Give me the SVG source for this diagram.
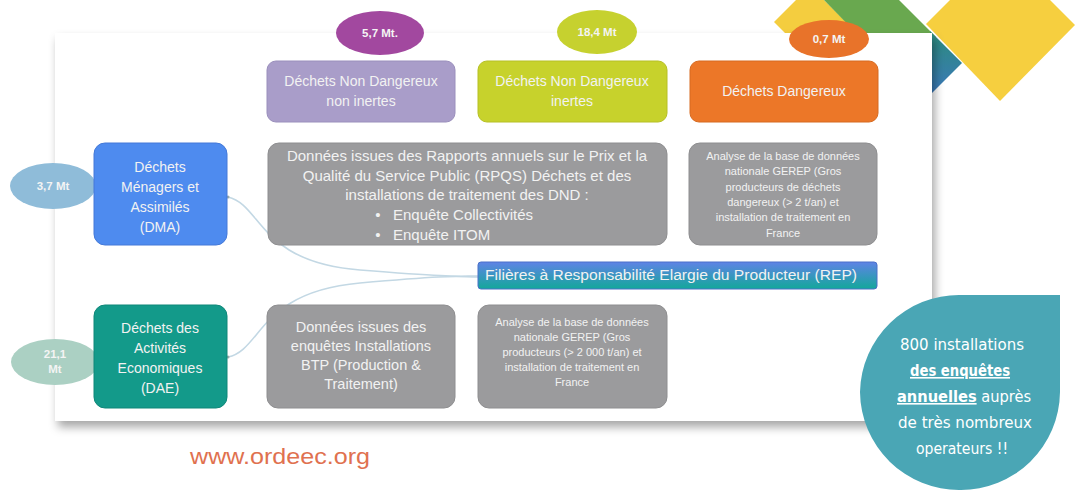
<svg xmlns="http://www.w3.org/2000/svg" width="1075" height="494" viewBox="0 0 1075 494">
<defs>
<filter id="sh" x="-5%" y="-5%" width="112%" height="115%">
<feDropShadow dx="3" dy="6" stdDeviation="5" flood-color="#000" flood-opacity="0.35"/>
</filter>
<linearGradient id="rep" x1="0" y1="0" x2="0" y2="1">
<stop offset="0" stop-color="#5f83e6"/>
<stop offset="1" stop-color="#13a89a"/>
</linearGradient>
<linearGradient id="tri" x1="0" y1="0" x2="0" y2="1">
<stop offset="0" stop-color="#2b8c7c"/>
<stop offset="1" stop-color="#3b78bb"/>
</linearGradient>
<style>
.t{font-family:"Liberation Sans",Arial,sans-serif;fill:#f2f2f2;text-anchor:middle}
.s{text-anchor:start}
.gray{fill:#9b9b9d;stroke:#8e8e90;stroke-width:1}
.el{font-family:"Liberation Sans",Arial,sans-serif;font-weight:bold;fill:#f4f4f4;text-anchor:middle;font-size:11.5px}
.cond{font-family:"DejaVu Sans Condensed","DejaVu Sans",sans-serif;fill:#ffffff;text-anchor:middle;font-size:16px}
.conn{fill:none;stroke:#c3d8e4;stroke-width:1.6}
</style>
</defs>
<rect width="1075" height="494" fill="#ffffff"/>
<g id="decor">
<polygon points="774,22 796,0 824,0 852,28 800,48" fill="#f4cd3f"/>
<polygon points="824,0 899,0 936,37 860,37" fill="#69a84f"/>
<polygon points="930,31 962,63 930,95" fill="url(#tri)"/>
<polygon points="926,24 1000,-50 1075,25 1000,101" fill="#f6cf3f"/>
</g>
<rect id="panel" x="55" y="33" width="877" height="388" fill="#ffffff" filter="url(#sh)"/>
<g id="connectors">
<path class="conn" d="M228,197 C262,205 258,262 360,270 S455,276 478,276"/>
<path class="conn" d="M228,357 C262,350 258,292 360,283 S455,277 478,277"/>
<circle cx="228" cy="197" r="1.5" fill="#9aa"/>
<circle cx="228" cy="357" r="1.5" fill="#9aa"/>
</g>
<g id="ndni">
<rect x="267" y="61" width="188" height="61" rx="9" fill="#a99dc9" stroke="#9a8fbc"/>
<text class="t" x="361" y="86" font-size="14">Déchets Non Dangereux</text>
<text class="t" x="361" y="106" font-size="14">non inertes</text>
</g>
<g id="ndi">
<rect x="478" y="61" width="189" height="61" rx="9" fill="#c7d22c" stroke="#b6c024"/>
<text class="t" x="572" y="86" font-size="14">Déchets Non Dangereux</text>
<text class="t" x="572" y="106" font-size="14">inertes</text>
</g>
<g id="dd">
<rect x="690" y="61" width="188" height="61" rx="9" fill="#ec7728" stroke="#d66a20"/>
<text class="t" x="784" y="96" font-size="14">Déchets Dangereux</text>
</g>
<g id="e57">
<ellipse cx="380" cy="33" rx="44" ry="22" fill="#a2489f"/>
<text class="el" x="380" y="37">5,7 Mt.</text>
</g>
<g id="e184">
<ellipse cx="597" cy="32" rx="40" ry="22" fill="#c6d12f"/>
<text class="el" x="597" y="36">18,4 Mt</text>
</g>
<g id="e07">
<ellipse cx="829" cy="39" rx="40" ry="19" fill="#e8732a"/>
<text class="el" x="829" y="43">0,7 Mt</text>
</g>
<g id="rpqs">
<rect class="gray" x="268" y="143" width="399" height="102" rx="11"/>
<text class="t" x="467" y="161" font-size="15">Données issues des Rapports annuels sur le Prix et la</text>
<text class="t" x="467" y="181" font-size="15">Qualité du Service Public (RPQS) Déchets et des</text>
<text class="t" x="467" y="200" font-size="15">installations de traitement des DND :</text>
<text class="t" x="378" y="220" font-size="15">•</text>
<text class="t s" x="393" y="220" font-size="15">Enquête Collectivités</text>
<text class="t" x="378" y="240" font-size="15">•</text>
<text class="t s" x="393" y="240" font-size="15">Enquête ITOM</text>
</g>
<g id="gerep1">
<rect class="gray" x="689" y="143" width="188" height="102" rx="11"/>
<text class="t" x="783" y="160" font-size="11">Analyse de la base de données</text>
<text class="t" x="783" y="175" font-size="11">nationale GEREP (Gros</text>
<text class="t" x="783" y="191" font-size="11">producteurs de déchets</text>
<text class="t" x="783" y="206" font-size="11">dangereux (&gt; 2 t/an) et</text>
<text class="t" x="783" y="221" font-size="11">installation de traitement en</text>
<text class="t" x="783" y="237" font-size="11">France</text>
</g>
<g id="e37">
<ellipse cx="53" cy="186" rx="43" ry="23" fill="#8fbcd9"/>
<text class="el" x="53" y="190" font-size="10.5">3,7 Mt</text>
</g>
<g id="dma">
<rect x="94" y="143" width="133" height="102" rx="11" fill="#4e8bef" stroke="#4479d8"/>
<text class="t" x="160" y="172" font-size="14">Déchets</text>
<text class="t" x="160" y="192" font-size="14">Ménagers et</text>
<text class="t" x="160" y="212" font-size="14">Assimilés</text>
<text class="t" x="160" y="232" font-size="14">(DMA)</text>
</g>
<g id="rep">
<rect x="478" y="262" width="399" height="27" rx="3" fill="url(#rep)" stroke="#4a70c8" stroke-width="1"/>
<text class="t" x="671" y="280" font-size="14" textLength="372" lengthAdjust="spacingAndGlyphs">Filières à Responsabilité Elargie du Producteur (REP)</text>
</g>
<g id="e211">
<ellipse cx="55" cy="362" rx="44" ry="23" fill="#abd0c3"/>
<text class="el" x="55" y="358" font-size="11">21,1</text>
<text class="el" x="55" y="373" font-size="11">Mt</text>
</g>
<g id="dae">
<rect x="94" y="305" width="133" height="103" rx="11" fill="#139a8a" stroke="#0f8779"/>
<text class="t" x="160" y="333" font-size="14">Déchets des</text>
<text class="t" x="160" y="353" font-size="14">Activités</text>
<text class="t" x="160" y="373" font-size="14">Economiques</text>
<text class="t" x="160" y="393" font-size="14">(DAE)</text>
</g>
<g id="btp">
<rect class="gray" x="267" y="305" width="188" height="103" rx="11"/>
<text class="t" x="361" y="332" font-size="14.5">Données issues des</text>
<text class="t" x="361" y="351" font-size="14.5">enquêtes Installations</text>
<text class="t" x="361" y="370" font-size="14.5">BTP (Production &amp;</text>
<text class="t" x="361" y="389" font-size="14.5">Traitement)</text>
</g>
<g id="gerep2">
<rect class="gray" x="478" y="305" width="189" height="103" rx="11"/>
<text class="t" x="572" y="326" font-size="11">Analyse de la base de données</text>
<text class="t" x="572" y="341" font-size="11">nationale GEREP (Gros</text>
<text class="t" x="572" y="356" font-size="11">producteurs (&gt; 2 000 t/an) et</text>
<text class="t" x="572" y="371" font-size="11">installation de traitement en</text>
<text class="t" x="572" y="386" font-size="11">France</text>
</g>
<g id="drop">
<path d="M960,295 L1060,295 L1060,392 A99,99 0 0 1 960,490 A99,99 0 0 1 860,392 A99,99 0 0 1 960,295 Z" fill="#4aa6b5"/>
<text class="cond" x="962" y="350" textLength="124" lengthAdjust="spacingAndGlyphs">800 installations</text>
<text class="cond" x="960" y="376" font-weight="bold" text-decoration="underline" textLength="100" lengthAdjust="spacingAndGlyphs">des enquêtes</text>
<text class="cond" x="964" y="402" textLength="134" lengthAdjust="spacingAndGlyphs"><tspan font-weight="bold" text-decoration="underline">annuelles</tspan> auprès</text>
<text class="cond" x="965" y="428" textLength="134" lengthAdjust="spacingAndGlyphs">de très nombreux</text>
<text class="cond" x="962" y="454" textLength="92" lengthAdjust="spacingAndGlyphs">operateurs !!</text>
</g>
<g id="url">
<text x="190" y="464" font-family="Liberation Sans,Arial,sans-serif" font-size="22" fill="#e0714f" textLength="180" lengthAdjust="spacingAndGlyphs">www.ordeec.org</text>
</g>
</svg>
